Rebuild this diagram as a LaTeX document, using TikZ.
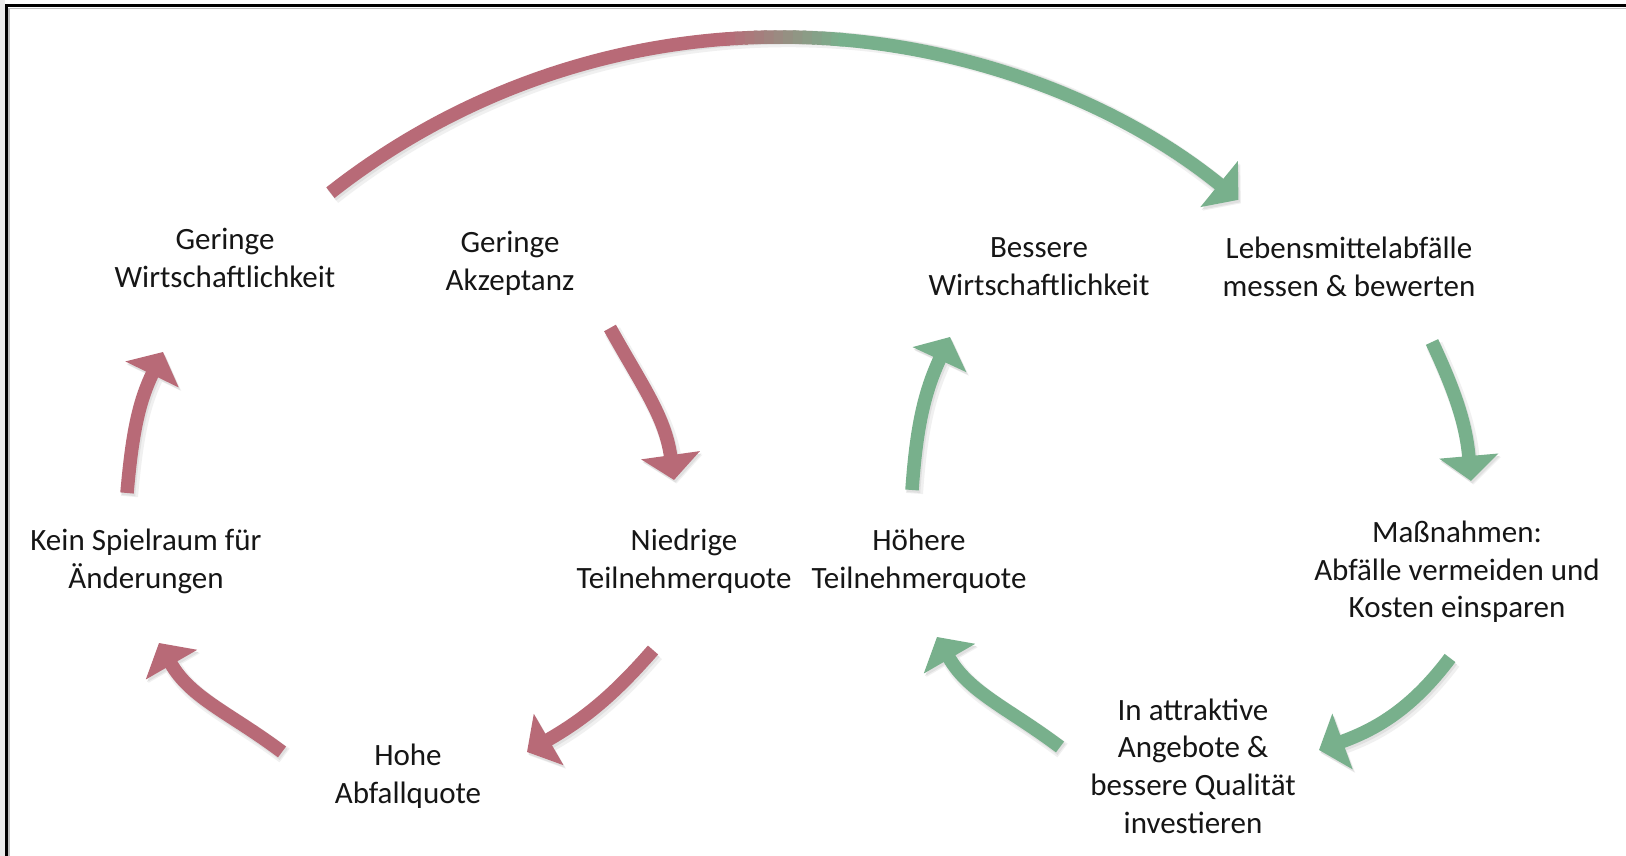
\documentclass[tikz,border=0pt]{standalone}
\usepackage{fontspec}
\setmainfont{Carlito}
\usetikzlibrary{arrows.meta}
\definecolor{rd}{RGB}{184,106,119}
\definecolor{gr}{RGB}{120,176,140}
\definecolor{txt}{RGB}{22,22,22}
\tikzset{
  lbl/.style={font=\fontsize{31}{37.7}\selectfont, text=txt, align=center, inner sep=0pt},
  shaft/.style={line width=13.5pt, -{Triangle[length=25pt,width=58pt]}},
  shdwa/.style={draw=black!6, line width=17pt, transform canvas={shift={(2.5pt,-3.5pt)}}},
  shdwb/.style={draw=black!12, transform canvas={shift={(1.5pt,-2.5pt)}}},
}
\newcommand\cyarr[5]{%
  \draw[shaft, shdwa] (#2) to[out=#4,in=#5] (#3);
  \draw[shaft, shdwb] (#2) to[out=#4,in=#5] (#3);
  \draw[shaft, draw=#1] (#2) to[out=#4,in=#5] (#3);
}
\begin{document}
\begin{tikzpicture}[x=1pt,y=1pt]
\useasboundingbox (0,0) rectangle (1626,856);
\fill[white] (0,0) rectangle (1626,856);
% frame
\fill[black!8] (0,0) rectangle (5,856);
\draw[black!25, line width=1.5pt] (9,0) -- (9,847.5) -- (1626,847.5);
\draw[black, line width=2.5pt] (6.5,0) -- (6.5,850.5) -- (1626,850.5);

% text nodes
\node[lbl] (gw) at (225,598) {Geringe\\Wirtschaftlichkeit};
\node[lbl] (ga) at (510,593) {Geringe\\Akzeptanz};
\node[lbl] (bw) at (1039,589) {Bessere\\Wirtschaftlichkeit};
\node[lbl] (lm) at (1349,589) {Lebensmittelabfälle\\messen \& bewerten};
\node[lbl] (ks) at (146,294.5) {Kein Spielraum für\\Änderungen};
\node[lbl] (nt) at (684,294.5) {Niedrige\\Teilnehmerquote};
\node[lbl] (ht) at (919,294.5) {Höhere\\Teilnehmerquote};
\node[lbl] (ma) at (1457,284) {Maßnahmen:\\Abfälle vermeiden und\\Kosten einsparen};
\node[lbl] (ha) at (408,80) {Hohe\\Abfallquote};
\node[lbl] (ia) at (1193,90) {In attraktive\\Angebote \&\\bessere Qualität\\investieren};

% arrow end points
\coordinate (a1s) at (127,363);  \coordinate (a1e) at (163,504);
\coordinate (a2s) at (610,528);  \coordinate (a2e) at (674,376);
\coordinate (a3s) at (653,206);  \coordinate (a3e) at (527,104);
\coordinate (a4s) at (282,104);  \coordinate (a4e) at (159,213);
\coordinate (g1s) at (912,366);  \coordinate (g1e) at (950,519);
\coordinate (g2s) at (1432,514); \coordinate (g2e) at (1471,375);
\coordinate (g3s) at (1450,198); \coordinate (g3e) at (1319,106);
\coordinate (g4s) at (1060,109); \coordinate (g4e) at (937,219);

% red cycle
\cyarr{rd}{a1s}{a1e}{85}{244}
\cyarr{rd}{a2s}{a2e}{-61}{98}
\cyarr{rd}{a3s}{a3e}{229}{30}
\cyarr{rd}{a4s}{a4e}{143}{300}
% green cycle
\cyarr{gr}{g1s}{g1e}{86}{245}
\cyarr{gr}{g2s}{g2e}{-65}{95}
\cyarr{gr}{g3s}{g3e}{233}{20}
\cyarr{gr}{g4s}{g4e}{143}{300}

% top arc with red-to-green gradient
\coordinate (tc) at (780,92);
\draw[shaft, shdwa] (tc) ++(128.2:727) arc[start angle=128.2, end angle=50.9, radius=727pt];
\draw[shaft, shdwb] (tc) ++(128.2:727) arc[start angle=128.2, end angle=50.9, radius=727pt];
\draw[line width=13.5pt, draw=rd] (tc) ++(128.2:727) arc[start angle=128.2, end angle=94.0, radius=727pt];
\foreach \i in {0,...,11}{
  \pgfmathsetmacro\aa{94.3-\i*9.1/12}
  \pgfmathsetmacro\bb{\aa-9.1/12-0.25}
  \pgfmathsetmacro\pc{100-(\i+0.5)*100/12}
  \draw[line width=13.5pt, draw=rd!\pc!gr] (tc) ++(\aa:727) arc[start angle=\aa, end angle=\bb, radius=727pt];
}
\draw[shaft, draw=gr] (tc) ++(85.4:727) arc[start angle=85.4, end angle=50.9, radius=727pt];
\end{tikzpicture}
\end{document}
